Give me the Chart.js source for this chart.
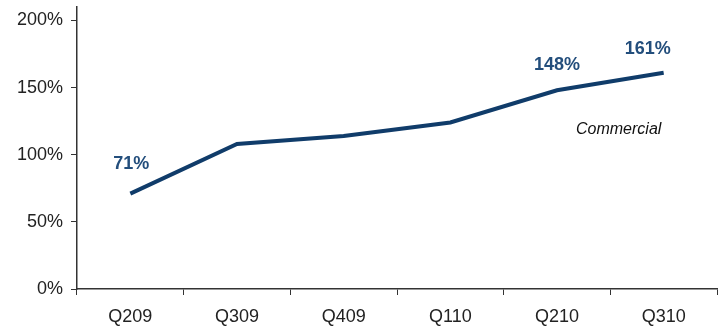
<!DOCTYPE html>
<html>
<head>
<meta charset="utf-8">
<script src="https://cdn.jsdelivr.net/npm/chart.js@4"></script>
<style>
  html, body { margin: 0; padding: 0; background: #fff; }
  #wrap { width: 727px; height: 326px; position: relative; }
</style>
</head>
<body>
<div id="wrap"><canvas id="chart"></canvas></div>
<script>
  const quarters = ["Q209", "Q309", "Q409", "Q110", "Q210", "Q310"];
  const commercialPct = [71, 108, 114, 124, 148, 161];
  const labelledPoints = [0, 4, 5];
  const yTicks = [0, 50, 100, 150, 200];

  const FONT = "'Liberation Sans', Arial, sans-serif";
  const NAVY = "#103c6a";

  // value labels + series name, placed from the scales
  const annotate = {
    id: "annotate",
    afterDatasetsDraw(chart) {
      const ctx = chart.ctx;
      const x = chart.scales.x;
      const y = chart.scales.y;
      const nudge = { 0: [1, -30], 4: [0, -25], 5: [-16, -24] };
      ctx.save();
      ctx.textAlign = "center";
      ctx.textBaseline = "middle";
      ctx.font = "bold 18px " + FONT;
      ctx.fillStyle = "#234e7c";
      labelledPoints.forEach((i) => {
        const d = nudge[i] || [0, -25];
        ctx.fillText(commercialPct[i] + "%", x.getPixelForValue(i) + d[0], y.getPixelForValue(commercialPct[i]) + d[1]);
      });
      ctx.font = "italic 16px " + FONT;
      ctx.fillStyle = "#111";
      ctx.fillText("Commercial", x.getPixelForValue(5) - 45, y.getPixelForValue(119));
      ctx.restore();
    }
  };

  new Chart(document.getElementById("chart"), {
    type: "line",
    data: {
      labels: quarters,
      datasets: [{
        label: "Commercial",
        data: commercialPct,
        borderColor: NAVY,
        borderWidth: 4,
        pointRadius: 0,
        tension: 0,
        fill: false
      }]
    },
    options: {
      responsive: true,
      maintainAspectRatio: false,
      animation: false,
      layout: { padding: { top: 7, right: 10, left: 0, bottom: 0 } },
      plugins: { legend: { display: false }, tooltip: { enabled: false } },
      scales: {
        x: {
          offset: true,
          grid: { display: true, drawOnChartArea: false, offset: true, tickLength: 6, color: "#333", tickColor: "#333" },
          border: { display: true, color: "#333", width: 1.5 },
          ticks: { color: "#222", font: { family: FONT, size: 18 }, padding: 11, maxRotation: 0 },
          afterFit: (s) => { s.height = 37; s.paddingLeft = 0; s.paddingRight = 0; }
        },
        y: {
          min: 0,
          max: 210,
          afterBuildTicks: (s) => { s.ticks = yTicks.map((v) => ({ value: v })); },
          grid: { display: true, drawOnChartArea: false, tickLength: 6, color: "#333", tickColor: "#333" },
          border: { display: true, color: "#333", width: 1.5 },
          ticks: { color: "#222", font: { family: FONT, size: 18 }, padding: 8, callback: (v) => v + "%" },
          afterFit: (s) => { s.width = 77; s.paddingTop = 0; s.paddingBottom = 0; }
        }
      }
    },
    plugins: [annotate]
  });
</script>
</body>
</html>
